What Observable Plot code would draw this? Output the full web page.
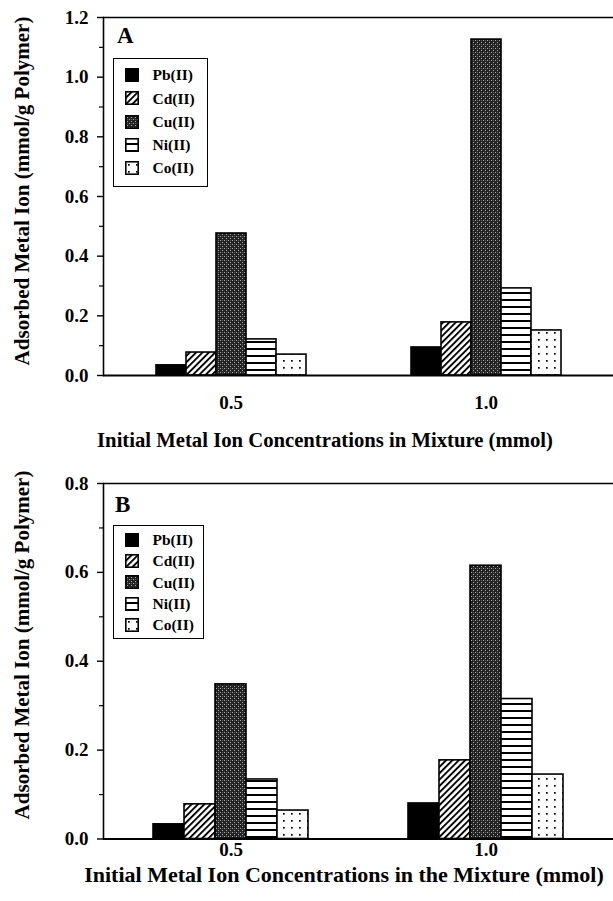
<!DOCTYPE html>
<html>
<head>
<meta charset="utf-8">
<script src="https://cdn.jsdelivr.net/npm/d3@7"></script>
<script src="https://cdn.jsdelivr.net/npm/@observablehq/plot@0.6"></script>
<style>
html,body{margin:0;padding:0;background:#fff;}
#wrap{position:relative;width:613px;height:901px;overflow:hidden;font-family:"Liberation Serif","Times New Roman",serif;font-weight:bold;color:#000;}
.panel{position:absolute;left:0;}
.ov{position:absolute;white-space:nowrap;line-height:1;}
.legend{position:absolute;border:1.5px solid #000;box-sizing:border-box;background:#fff;}
.item{position:absolute;display:flex;align-items:center;font-size:15.5px;line-height:1;}
.item svg{display:block;}
</style>
</head>
<body>
<svg width="0" height="0" style="position:absolute">
  <defs>
    <pattern id="pPb" width="4" height="4" patternUnits="userSpaceOnUse"><rect width="4" height="4" fill="#000"/></pattern>
    <pattern id="pCd" width="4.5" height="4.5" patternUnits="userSpaceOnUse" patternTransform="rotate(45)"><rect width="4.5" height="4.5" fill="#fff"/><rect width="1.9" height="4.5" fill="#000"/></pattern>
    <pattern id="pCu" width="4" height="4" patternUnits="userSpaceOnUse"><rect width="4" height="4" fill="#232323"/><rect x="0" y="0" width="1" height="1" fill="#a8a8a8"/><rect x="2" y="2" width="1" height="1" fill="#a8a8a8"/><rect x="2" y="0" width="1" height="1" fill="#555"/></pattern>
    <pattern id="pNi" width="8" height="7" patternUnits="userSpaceOnUse"><rect width="8" height="7" fill="#fff"/><rect y="5" width="8" height="2" fill="#000"/></pattern>
    <pattern id="pCo" width="8" height="7" patternUnits="userSpaceOnUse"><rect width="8" height="7" fill="#fff"/><rect x="3" y="3" width="1.7" height="1.7" fill="#000"/></pattern>
  </defs>
</svg>
<div id="wrap"></div>
<script>
// ---- data ----
const metals = ["Pb(II)", "Cd(II)", "Cu(II)", "Ni(II)", "Co(II)"];
const concentrations = ["0.5", "1.0"];
const panelA_05 = [0.034, 0.077, 0.476, 0.121, 0.070];
const panelA_10 = [0.094, 0.178, 1.126, 0.292, 0.151];
const panelB_05 = [0.033, 0.078, 0.348, 0.134, 0.064];
const panelB_10 = [0.080, 0.177, 0.615, 0.315, 0.145];
const yMajorA = [0, 0.2, 0.4, 0.6, 0.8, 1.0, 1.2];
const yMinorA = [0.1, 0.3, 0.5, 0.7, 0.9, 1.1];
const yMajorB = [0, 0.2, 0.4, 0.6, 0.8];
const yMinorB = [0.1, 0.3, 0.5, 0.7];
const yTitle = "Adsorbed Metal Ion (mmol/g Polymer)";
const xTitleA = "Initial Metal Ion Concentrations in Mixture (mmol)";
const xTitleB = "Initial Metal Ion Concentrations in the Mixture (mmol)";
const patterns = ["url(#pPb)", "url(#pCd)", "url(#pCu)", "url(#pNi)", "url(#pCo)"];

function table(v05, v10) {
  const rows = [];
  metals.forEach((m, i) => rows.push({conc: concentrations[0], metal: m, value: v05[i]}));
  metals.forEach((m, i) => rows.push({conc: concentrations[1], metal: m, value: v10[i]}));
  return rows;
}

function panel({data, ymax, major, minor, height, marginTop, marginBottom, padOuter, fxPad}) {
  return Plot.plot({
    width: 613,
    height,
    marginLeft: 103,
    marginRight: 0,
    marginTop,
    marginBottom,
    style: {fontFamily: '"Liberation Serif", "Times New Roman", serif', fontWeight: "bold", fontSize: "19px", background: "transparent", color: "#000"},
    fx: {domain: concentrations, padding: 0, label: null},
    x: {domain: metals, paddingInner: 0, paddingOuter: padOuter, axis: null},
    y: {domain: [0, ymax], label: null},
    color: {type: "ordinal", domain: metals, range: patterns},
    marks: [
      Plot.barY(data, {fx: "conc", x: "metal", y: "value", fill: "metal", stroke: "#000", strokeWidth: 1.6, inset: 0}),
      Plot.ruleY([0], {stroke: "#000", strokeWidth: 1.8}),
      Plot.ruleY([ymax], {stroke: "#000", strokeWidth: 1.6}),
      Plot.frame({anchor: "left", facet: "super", stroke: "#000", strokeWidth: 1.6}),
      Plot.axisY(major, {tickSize: 6, tickPadding: 9, tickFormat: d3.format(".1f"), label: null, strokeWidth: 1.4, fontSize: 19, fontWeight: "bold"}),
      Plot.axisY(minor, {tickSize: 4, tickPadding: 0, tickFormat: () => "", label: null, strokeWidth: 1.2}),
      Plot.axisFx({anchor: "bottom", tickSize: 0, tickPadding: fxPad, label: null, fontSize: 19, fontWeight: "bold"})
    ]
  });
}

const wrap = document.getElementById("wrap");

function addPanel(top, opts, overlay) {
  const p = document.createElement("div");
  p.className = "panel";
  p.style.top = top + "px";
  p.appendChild(panel(opts));
  wrap.appendChild(p);

  const L = document.createElement("div");
  L.className = "ov";
  L.textContent = overlay.letter;
  L.style.left = overlay.letterX + "px";
  L.style.top = overlay.letterY + "px";
  L.style.fontSize = "23px";
  wrap.appendChild(L);

  const Y = document.createElement("div");
  Y.className = "ov";
  Y.textContent = yTitle;
  Y.style.fontSize = overlay.yFont + "px";
  Y.style.left = overlay.yCx + "px";
  Y.style.top = overlay.yCy + "px";
  Y.style.transform = "translate(-50%,-50%) rotate(-90deg)";
  wrap.appendChild(Y);

  const X = document.createElement("div");
  X.className = "ov";
  X.textContent = overlay.xTitle;
  X.style.fontSize = overlay.xFont + "px";
  X.style.left = overlay.xCx + "px";
  X.style.top = overlay.xTop + "px";
  X.style.transform = "translateX(-50%)";
  wrap.appendChild(X);

  const box = document.createElement("div");
  box.className = "legend";
  box.style.left = overlay.lg.left + "px";
  box.style.top = overlay.lg.top + "px";
  box.style.width = overlay.lg.w + "px";
  box.style.height = overlay.lg.h + "px";
  metals.forEach((m, i) => {
    const it = document.createElement("div");
    it.className = "item";
    it.style.left = "10.5px";
    it.style.top = (overlay.lg.first + i * overlay.lg.step - 8) + "px";
    it.style.height = "16px";
    it.innerHTML = `<svg width="14" height="14"><rect x="0.8" y="0.8" width="12.4" height="12.4" fill="${patterns[i]}" stroke="#000" stroke-width="1.6"/></svg><span style="margin-left:14px">${m}</span>`;
    box.appendChild(it);
  });
  wrap.appendChild(box);
}

addPanel(0, {
  data: table(panelA_05, panelA_10), ymax: 1.2, major: yMajorA, minor: yMinorA,
  height: 460, marginTop: 17, marginBottom: 85, padOuter: 1.72, fxPad: 20
}, {
  letter: "A", letterX: 117, letterY: 24,
  yFont: 21, yCx: 22, yCy: 191,
  xTitle: xTitleA, xFont: 20.7, xCx: 325, xTop: 430,
  lg: {left: 113, top: 58, w: 95, h: 129, first: 16, step: 23.3}
});

addPanel(460, {
  data: table(panelB_05, panelB_10), ymax: 0.8, major: yMajorB, minor: yMinorB,
  height: 441, marginTop: 23, marginBottom: 62.5, padOuter: 1.57, fxPad: 3
}, {
  letter: "B", letterX: 115, letterY: 493,
  yFont: 21, yCx: 22, yCy: 645,
  xTitle: xTitleB, xFont: 22, xCx: 344, xTop: 864,
  lg: {left: 113, top: 525, w: 91, h: 114, first: 14, step: 21.2}
});
</script>
</body>
</html>
